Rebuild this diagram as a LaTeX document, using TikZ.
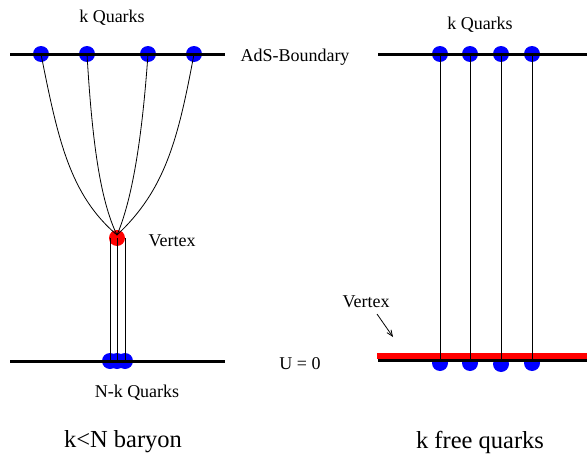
\documentclass[tikz,border=0pt]{standalone}
\usepackage{fontspec}
\setmainfont{Liberation Serif}
\usetikzlibrary{arrows.meta}
\begin{document}
\begin{tikzpicture}[x=1pt,y=-1pt,
  bnd/.style={line width=3pt,black},
  quark/.style={circle,fill=blue,inner sep=0pt,minimum size=16pt},
  vtx/.style={circle,fill=red,inner sep=0pt,minimum size=16pt},
  str/.style={line width=0.8pt,black},
  lbl/.style={font=\fontsize{18}{20}\selectfont,inner sep=0pt},
  big/.style={font=\fontsize{24.5}{27}\selectfont,inner sep=0pt}]
\useasboundingbox (0,0) rectangle (587,455);
% left panel boundaries
\coordinate (LT1) at (10,54); \coordinate (LT2) at (225,54);
\coordinate (LB1) at (10,361); \coordinate (LB2) at (225,361);
% left top quarks
\node[quark] (q1) at (41,54) {};
\node[quark] (q2) at (87,54) {};
\node[quark] (q3) at (148,54) {};
\node[quark] (q4) at (194,54) {};
\draw[bnd] (LT1) -- (LT2);
% bottom quarks
\node[quark] (b1) at (110,361) {};
\node[quark] (b2) at (117,361) {};
\node[quark] (b3) at (125,361) {};
\draw[bnd] (LB1) -- (LB2);
% vertex
\node[vtx] (v) at (117,238) {};
\coordinate (vc) at (117,235);
\draw[str] (q1.center) .. controls (58,140) and (70,195) .. (vc);
\draw[str] (q2.center) .. controls (92,140) and (100,200) .. (vc);
\draw[str] (q3.center) .. controls (142,140) and (132,200) .. (vc);
\draw[str] (q4.center) .. controls (178,140) and (165,190) .. (vc);
\draw[str] (110,238) -- (b1.center);
\draw[str] (v.center) -- (b2.center);
\draw[str] (125,238) -- (b3.center);
% labels left
\node[lbl] (kq1) at (112,18) {k Quarks};
\node[lbl] (ads) at (295,57) {AdS-Boundary};
\node[lbl] (vl) at (172,241) {Vertex};
\node[lbl] (u0) at (300,364) {U = 0};
\node[lbl] (nk) at (137,393) {N-k Quarks};
\node[big] (bar) at (123,442) {k<N baryon};
% right panel
\coordinate (RT1) at (378,54); \coordinate (RT2) at (587,54);
\coordinate (RB1) at (378,360); \coordinate (RB2) at (587,360);
\coordinate (RR1) at (377,356); \coordinate (RR2) at (587,356);
\node[quark] (r1) at (440,54) {};
\node[quark] (r2) at (470,54) {};
\node[quark] (r3) at (501,54) {};
\node[quark] (r4) at (532,54) {};
\draw[bnd] (RT1) -- (RT2);
\node[quark] (s1) at (440,363) {};
\node[quark] (s2) at (470,363) {};
\node[quark] (s3) at (501,364) {};
\node[quark] (s4) at (532,363) {};
\draw[bnd] (RB1) -- (RB2);
\draw[line width=6pt,red] (RR1) -- (RR2);
\draw[str] (r1.center) -- (s1.center |- RB1);
\draw[str] (r2.center) -- (s2.center |- RB1);
\draw[str] (r3.center) -- (s3.center |- RB1);
\draw[str] (r4.center) -- (s4.center |- RB1);
\node[lbl] (kq2) at (480,25) {k Quarks};
\node[lbl] (vr) at (366,302) {Vertex};
\coordinate (ar1) at (377,314); \coordinate (ar2) at (393,337);
\draw[str,-{Straight Barb[length=6pt,width=5pt]}] (ar1) -- (ar2);
\node[big] (fq) at (480,442) {k free quarks};
\end{tikzpicture}
\end{document}
